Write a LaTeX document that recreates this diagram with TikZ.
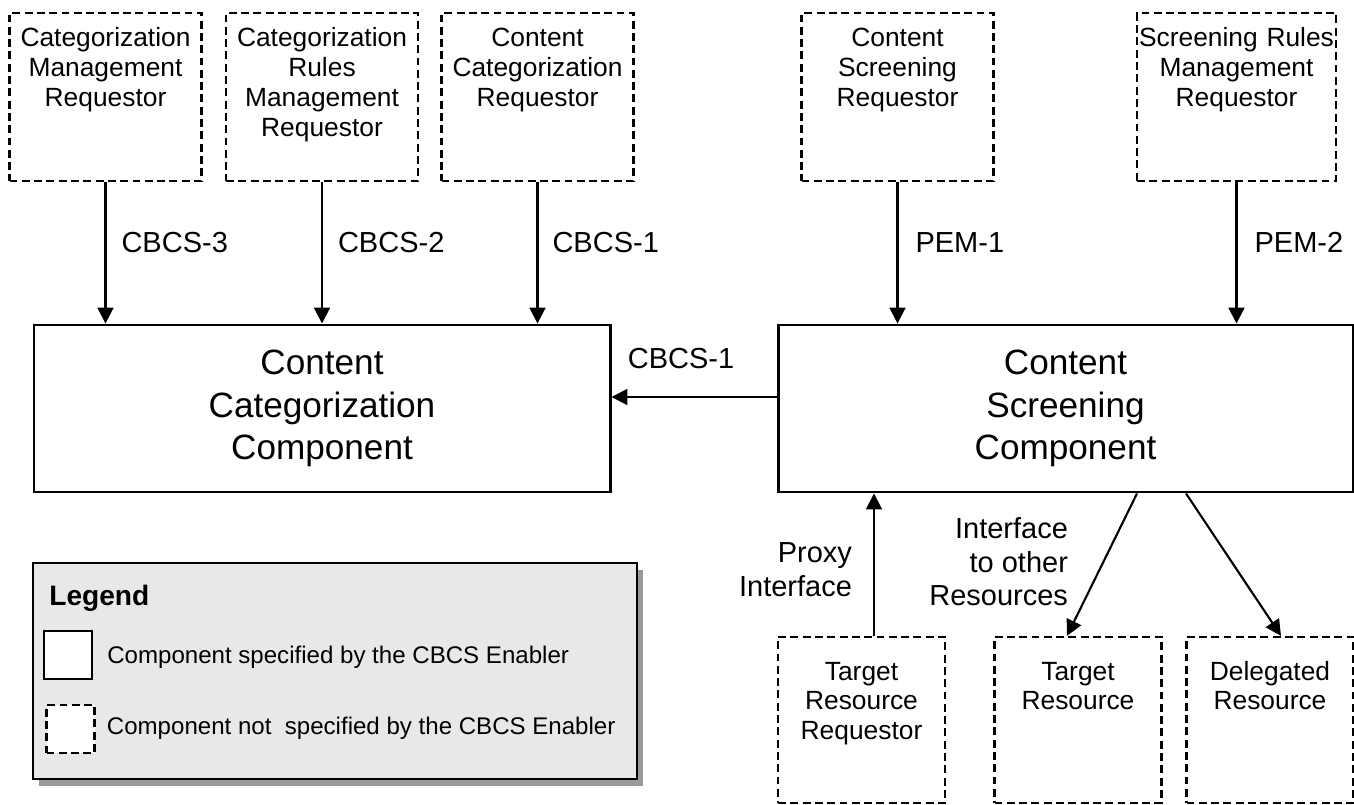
\documentclass[tikz,border=0pt]{standalone}
\usepackage{fontspec}
\setmainfont{Liberation Sans}
\usepackage{tikz}
\usetikzlibrary{arrows.meta, positioning, shadows}
\definecolor{legend-gray}{HTML}{E8E8E8}
\definecolor{shadow-gray}{HTML}{9A9A9A}

\tikzset{
    reqbox/.style={draw, line width=1.3pt, dash pattern=on 4.5pt off 2.5pt, fill=white, inner sep=0pt,
        align=center, text width=3.84cm, text height=19.3pt, text depth=76.3pt,
        font=\fontsize{15}{17}\selectfont},
    resbox/.style={reqbox, text width=3.34cm, text height=24.5pt, text depth=70pt},
    compbox/.style={draw, line width=1.7pt, minimum width=11.52cm, minimum height=3.34cm,
        align=center, font=\fontsize{20}{24.2}\selectfont},
    iflabel/.style={inner sep=0pt, font=\fontsize{16.5}{19.3}\selectfont},
    link/.style={->, line width=1.2pt},
    legendbox/.style={draw, line width=1.3pt, fill=legend-gray, minimum width=12.08cm, minimum height=4.32cm,
        general shadow={fill=shadow-gray, shadow xshift=0.12cm, shadow yshift=-0.14cm}},
    keybox/.style={draw, line width=1.1pt, fill=white, minimum size=0.96cm, inner sep=0pt},
    keytext/.style={inner sep=0pt, font=\fontsize{13.7}{16}\selectfont}
}

\begin{document}
\begin{tikzpicture}[>={Triangle[length=9pt, width=9pt]}]
    \useasboundingbox (0,0) rectangle (27.08,-16.08);

    % Requestors
    \node[reqbox] (catmgmt) at (2.11,-1.94) {Categorization\\Management\\Requestor};
    \node[reqbox] (catrules) at (6.44,-1.94) {Categorization\\Rules\\Management\\Requestor};
    \node[reqbox] (catreq) at (10.75,-1.94) {Content\\Categorization\\Requestor};
    \node[reqbox] (scrreq) at (17.95,-1.94) {Content\\Screening\\Requestor};
    \node[reqbox, text width=3.98cm] (scrrules) at (24.73,-1.94) {Screening Rules\\Management\\Requestor};

    % Components
    \node[compbox] (catcomp) at (6.44,-8.17) {Content\\Categorization\\Component};
    \node[compbox, minimum width=11.5cm] (scrcomp) at (21.31,-8.17) {Content\\Screening\\Component};

    % Resources
    \node[resbox] (trr) at (17.23,-14.40) {Target\\Resource\\Requestor};
    \node[resbox] (tres) at (21.56,-14.40) {Target\\Resource};
    \node[resbox] (dres) at (25.40,-14.40) {Delegated\\Resource};

    % Interfaces
    \draw[link] (catmgmt.south) -- (catmgmt.south |- catcomp.north)
        node[iflabel, midway, right=0.3cm, yshift=0.2cm] {CBCS-3};
    \draw[link] (catrules.south) -- (catrules.south |- catcomp.north)
        node[iflabel, midway, right=0.3cm, yshift=0.2cm] {CBCS-2};
    \draw[link] (catreq.south) -- (catreq.south |- catcomp.north)
        node[iflabel, midway, right=0.28cm, yshift=0.2cm] {CBCS-1};
    \draw[link] (scrreq.south) -- (scrreq.south |- scrcomp.north)
        node[iflabel, midway, right=0.34cm, yshift=0.2cm] {PEM-1};
    \draw[link] (scrrules.south) -- (scrrules.south |- scrcomp.north)
        node[iflabel, midway, right=0.34cm, yshift=0.2cm] {PEM-2};

    \draw[link] ([yshift=0.23cm]scrcomp.west) -- ([yshift=0.23cm]catcomp.east)
        node[iflabel, midway, above=0.54cm, xshift=-0.26cm] {CBCS-1};

    \draw[link] ([xshift=0.25cm]trr.north) -- ([xshift=0.25cm]trr.north |- scrcomp.south)
        node[iflabel, midway, left=0.42cm, yshift=-0.1cm, align=right] {Proxy\\Interface};
    \draw[link] ([xshift=1.43cm]scrcomp.south) -- ([xshift=-0.22cm]tres.north)
        node[iflabel, midway, left=0.66cm, yshift=0.06cm, align=right] {Interface\\to other\\Resources};
    \draw[link] ([xshift=2.41cm]scrcomp.south) -- ([xshift=0.22cm]dres.north);

    % Legend
    \node[legendbox] (legend) at (6.70,-13.42) {};
    \node[anchor=west, inner sep=0pt, font=\fontsize{16}{19}\selectfont\bfseries] (legtitle) at (0.98,-11.96) {Legend};
    \node[keybox] (speckey) at (1.36,-13.10) {};
    \node[keybox, line width=1.2pt, dash pattern=on 4.5pt off 2.5pt] (nspeckey) at (1.41,-14.58) {};
    \node[keytext, right=0.28cm of speckey, yshift=-0.05cm] (spectext) {Component specified by the CBCS Enabler};
    \node[keytext, right=0.22cm of nspeckey, yshift=0.02cm] (nspectext) {Component not\ \ specified by the CBCS Enabler};
\end{tikzpicture}
\end{document}
